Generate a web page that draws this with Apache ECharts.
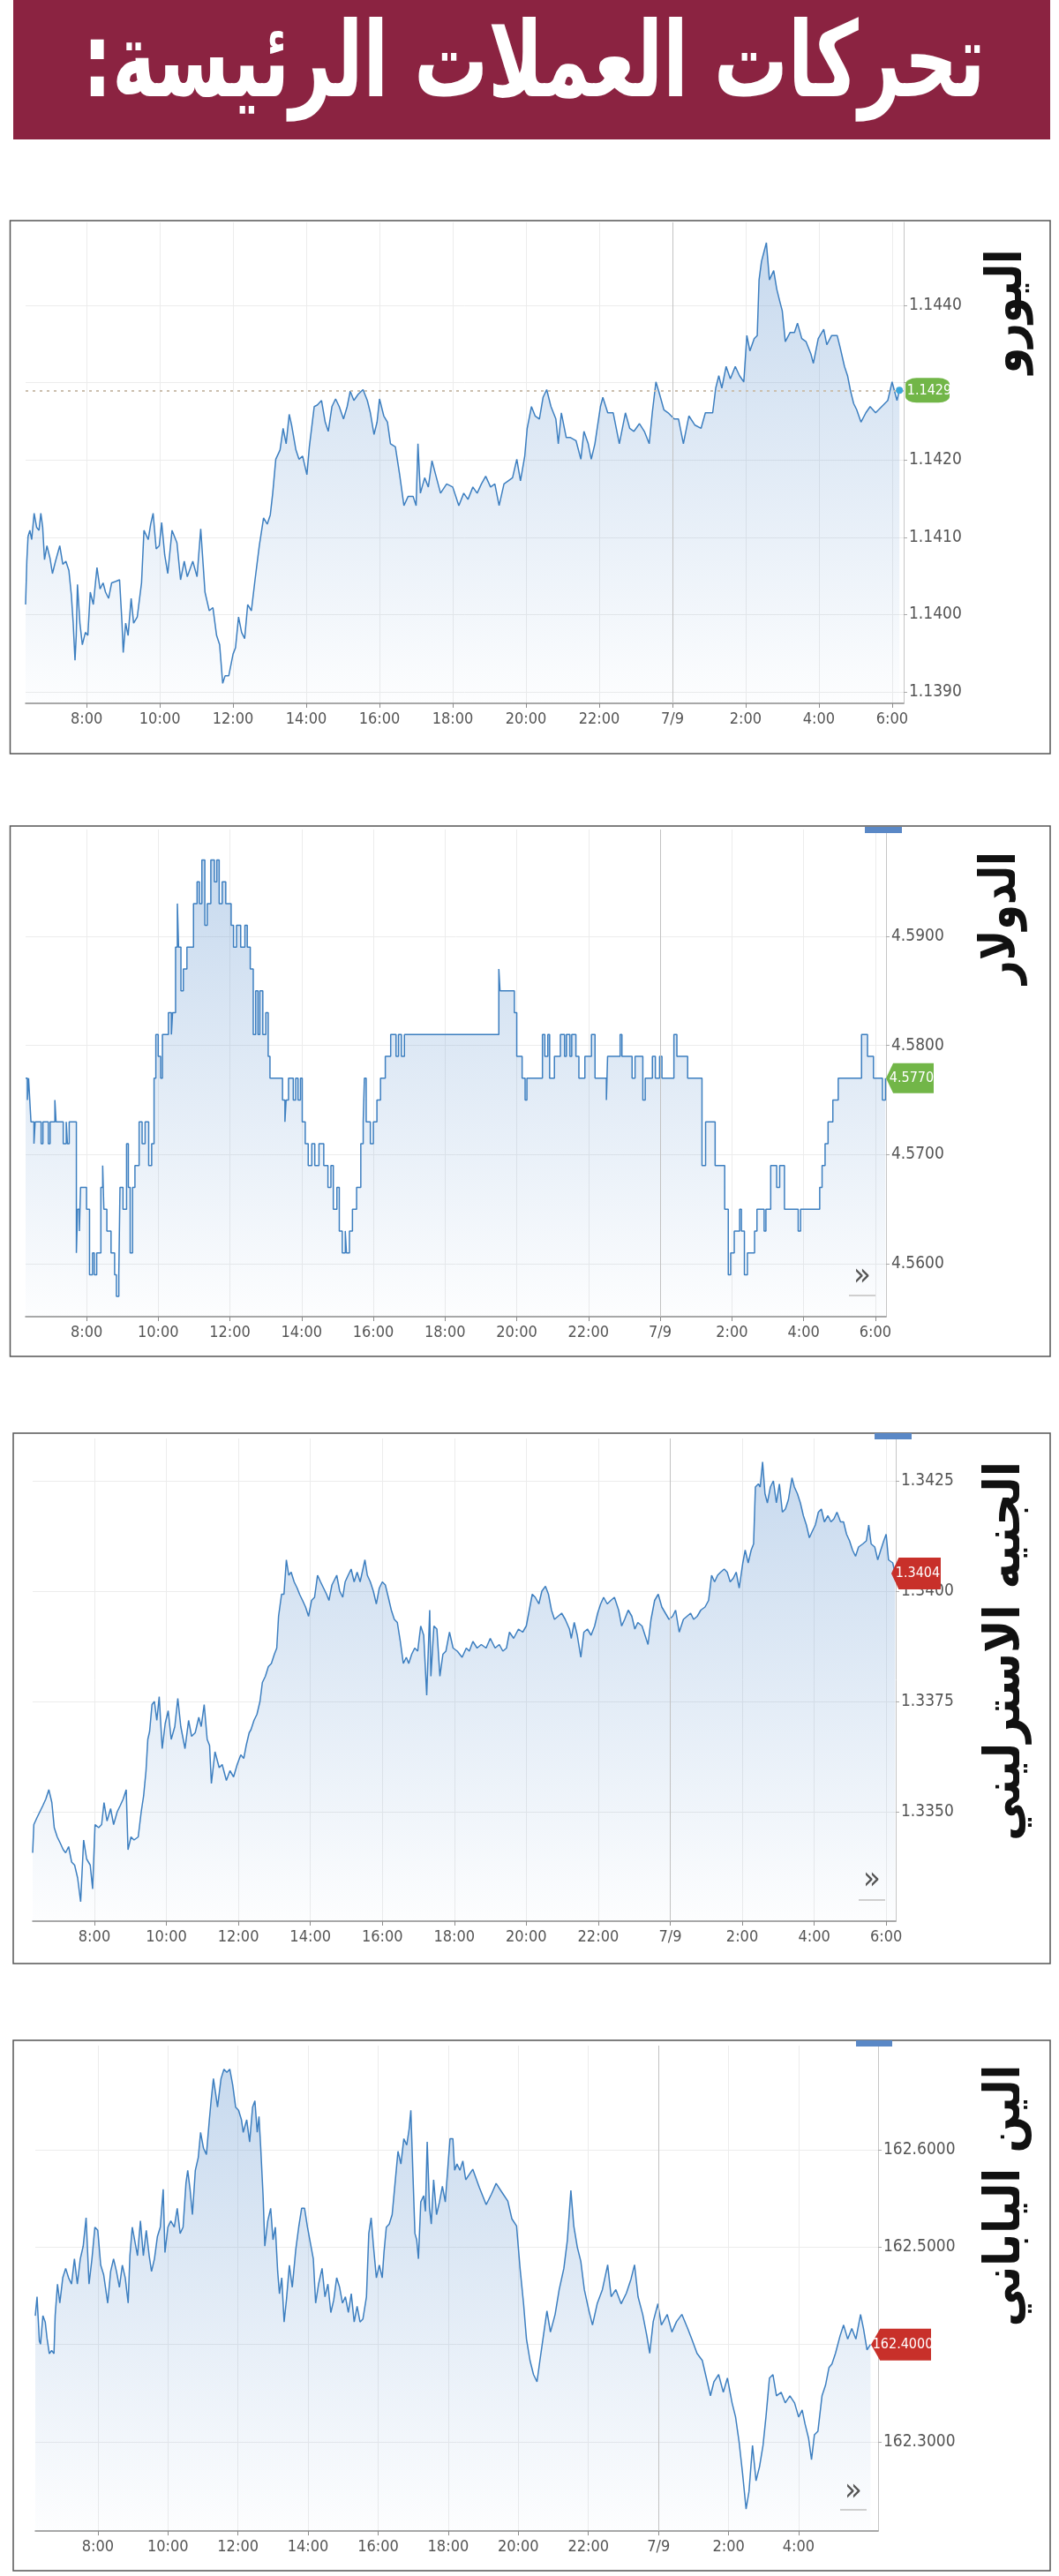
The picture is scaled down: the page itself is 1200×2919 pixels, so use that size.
<!DOCTYPE html>
<html>
<head>
<meta charset="utf-8">
<script src="https://cdn.jsdelivr.net/npm/echarts@6.0.0/dist/echarts.min.js"></script>
<style>
  html, body { margin: 0; padding: 0; background: #fff; }
  #main { width: 1200px; height: 2919px; }
</style>
</head>
<body>
<div id="main"></div>
<script>
// عناوين
var pageTitle = 'تحركات العملات الرئيسة:\u200F';
var chartNames = ['اليورو', 'الدولار', 'الجنيه الاسترليني', 'الين الياباني'];

// محور الوقت: دقائق منذ منتصف ليل اليوم الأول
var timeTicks = [480, 600, 720, 840, 960, 1080, 1200, 1320, 1440, 1560, 1680, 1800];
var timeTicksJpy = [480, 600, 720, 840, 960, 1080, 1200, 1320, 1440, 1560, 1680];

var eurTicks = [1.139, 1.140, 1.141, 1.142, 1.143, 1.144];
var eurLabels = [1.139, 1.140, 1.141, 1.142, 1.144];
var ilsTicks = [4.56, 4.57, 4.58, 4.59];
var gbpTicks = [1.335, 1.3375, 1.34, 1.3425];
var jpyTicks = [162.3, 162.4, 162.5, 162.6];
var jpyLabels = [162.3, 162.5, 162.6];

var lastPrices = [1.1429, 4.5770, 1.3404, 162.4000];

var eurData = [
[380,1.14013],[382,1.14069],[384,1.14101],[387,1.14109],[390,1.14097],[394,1.14131],[398,1.14113],[402,1.14109],[405,1.14131],[408,1.14113],[411,1.14071],[415,1.14089],[420,1.14073],[424,1.14053],[429,1.14069],[436,1.14089],[441,1.14065],[446,1.14069],[451,1.14057],[455,1.14025],[458,1.13989],[461,1.13941],[463,1.13973],[465,1.14039],[469,1.13989],[473,1.13961],[478,1.13977],[482,1.13973],[486,1.14029],[491,1.14013],[497,1.14061],[502,1.14033],[507,1.14041],[511,1.14029],[516,1.14021],[521,1.14041],[528,1.14043],[534,1.14045],[538,1.13989],[540,1.13951],[544,1.13989],[548,1.13973],[553,1.14021],[557,1.13989],[563,1.13997],[570,1.14041],[574,1.14109],[581,1.14097],[585,1.14117],[589,1.14131],[594,1.14085],[599,1.14089],[603,1.14119],[608,1.14077],[613,1.14053],[620,1.14109],[628,1.14093],[634,1.14045],[640,1.14069],[645,1.14049],[654,1.14069],[661,1.14049],[667,1.14111],[674,1.14029],[681,1.14005],[687,1.14009],[693,1.13973],[698,1.13961],[703,1.13911],[707,1.13921],[713,1.13921],[720,1.13949],[724,1.13957],[729,1.13997],[734,1.13977],[739,1.13969],[744,1.14013],[750,1.14005],[756,1.14045],[763,1.14089],[770,1.14125],[776,1.14117],[781,1.14129],[785,1.14157],[790,1.14201],[797,1.14213],[802,1.14241],[807,1.14221],[812,1.14259],[816,1.14245],[823,1.14213],[828,1.14201],[834,1.14205],[841,1.14181],[845,1.14217],[853,1.14269],[858,1.14271],[865,1.14277],[871,1.14249],[876,1.14237],[882,1.14269],[888,1.14279],[894,1.14269],[901,1.14253],[907,1.14269],[912,1.14289],[918,1.14277],[925,1.14285],[933,1.14291],[940,1.14277],[945,1.14261],[951,1.14233],[956,1.14249],[960,1.14279],[967,1.14257],[973,1.14249],[978,1.14221],[986,1.14217],[993,1.14181],[1000,1.14141],[1007,1.14153],[1015,1.14153],[1020,1.14141],[1023,1.14221],[1027,1.14157],[1034,1.14177],[1040,1.14165],[1046,1.14199],[1052,1.14181],[1060,1.14157],[1070,1.14169],[1080,1.14165],[1090,1.14141],
[1098,1.14157],[1105,1.14149],[1113,1.14165],[1120,1.14157],[1127,1.14169],[1134,1.14179],[1142,1.14165],[1149,1.14169],[1156,1.14141],[1164,1.14169],[1171,1.14173],[1178,1.14177],[1185,1.14201],[1191,1.14173],[1198,1.14205],[1202,1.14241],[1209,1.14269],[1215,1.14257],[1222,1.14253],[1228,1.14281],[1234,1.14291],[1241,1.14269],[1249,1.14253],[1253,1.14221],[1258,1.14261],[1266,1.14229],[1273,1.14229],[1282,1.14225],[1290,1.14201],[1295,1.14237],[1302,1.14221],[1307,1.14201],[1313,1.14221],[1322,1.14269],[1326,1.14281],[1334,1.14261],[1343,1.14261],[1353,1.14221],[1363,1.14261],[1370,1.14241],[1377,1.14237],[1386,1.14247],[1394,1.14237],[1402,1.14221],[1407,1.14261],[1413,1.14301],[1419,1.14285],[1426,1.14265],[1433,1.14261],[1443,1.14253],[1450,1.14253],[1458,1.14221],[1467,1.14257],[1477,1.14245],[1487,1.14241],[1494,1.14261],[1506,1.14261],[1511,1.14293],[1516,1.14309],[1521,1.14293],[1528,1.14321],[1535,1.14305],[1543,1.14321],[1550,1.14309],[1557,1.14301],[1562,1.14361],[1567,1.14341],[1574,1.14357],[1579,1.14361],[1582,1.14433],[1586,1.14457],[1590,1.14469],[1594,1.14481],[1599,1.14433],[1606,1.14445],[1611,1.14421],[1616,1.14405],[1620,1.14393],[1625,1.14353],[1633,1.14365],[1640,1.14365],[1645,1.14377],[1652,1.14357],[1659,1.14353],[1667,1.14337],[1671,1.14325],[1679,1.14357],[1688,1.14369],[1693,1.14349],[1701,1.14361],[1710,1.14361],[1715,1.14345],[1722,1.14321],[1727,1.14309],[1732,1.14289],[1737,1.14273],[1742,1.14265],[1749,1.14249],[1757,1.14261],[1764,1.14269],[1773,1.14261],[1783,1.14269],[1793,1.14277],[1800,1.14301],[1808,1.14277],[1812,1.14290]
];

var ilsData = [
[378,4.577],[381,4.575],[383,4.577],[385,4.575],[387,4.573],[392,4.571],[394,4.573],[404,4.571],[407,4.573],[416,4.571],[419,4.573],[427,4.575],[429,4.573],[441,4.571],[446,4.573],[448,4.571],[451,4.573],[463,4.561],[465,4.565],[468,4.563],[470,4.567],[480,4.565],[485,4.559],[490,4.561],[493,4.559],[497,4.561],[504,4.567],[507,4.569],[509,4.565],[514,4.563],[521,4.561],[527,4.559],[530,4.557],[534,4.559],[536,4.567],[541,4.565],[547,4.571],[550,4.567],[553,4.561],[557,4.567],[561,4.569],[568,4.573],[573,4.571],[578,4.573],[584,4.569],[589,4.571],[593,4.577],[596,4.581],[600,4.579],[604,4.577],[607,4.581],[617,4.583],[622,4.581],[624,4.583],[629,4.589],[632,4.593],[634,4.589],[638,4.585],[642,4.587],[648,4.589],[659,4.593],[665,4.595],[669,4.593],[673,4.597],[678,4.591],[682,4.593],[688,4.597],[694,4.595],[698,4.597],[702,4.593],[707,4.595],[713,4.593],[722,4.591],[726,4.589],[731,4.591],[738,4.589],[745,4.591],[749,4.589],[754,4.587],[759,4.581],[763,4.585],[767,4.581],[770,4.585],[775,4.581],[780,4.583],[784,4.579],[787,4.577],[808,4.575],[812,4.573],[814,4.575],[818,4.577],[826,4.575],[830,4.577],[834,4.575],[838,4.577],[841,4.573],[846,4.571],[851,4.569],[857,4.571],[862,4.569],[869,4.571],[877,4.569],[884,4.567],[889,4.569],[893,4.565],[899,4.567],[903,4.563],[908,4.561],[913,4.563],[915,4.561],[920,4.563],[925,4.565],[932,4.567],[939,4.571],[943,4.573],[945,4.577],[948,4.573],[955,4.571],[960,4.573],[966,4.575],[972,4.577],[980,4.579],[989,4.581],[998,4.579],[1002,4.581],[1007,4.579],[1012,4.581],
[1170,4.587],[1172,4.585],[1196,4.583],[1200,4.579],[1209,4.577],[1214,4.575],[1217,4.577],[1243,4.581],[1247,4.579],[1252,4.581],[1255,4.577],[1263,4.579],[1273,4.581],[1280,4.579],[1283,4.581],[1289,4.579],[1292,4.581],[1299,4.579],[1304,4.577],[1314,4.579],[1325,4.581],[1331,4.577],[1350,4.575],[1352,4.579],[1373,4.581],[1376,4.579],[1393,4.577],[1398,4.579],[1411,4.575],[1415,4.577],[1427,4.579],[1432,4.577],[1439,4.579],[1443,4.577],[1463,4.581],[1468,4.579],[1486,4.577],[1510,4.569],[1516,4.573],[1532,4.569],[1548,4.565],[1554,4.559],[1558,4.561],[1564,4.563],[1573,4.565],[1576,4.563],[1581,4.559],[1586,4.561],[1598,4.563],[1602,4.565],[1614,4.563],[1617,4.565],[1625,4.569],[1635,4.567],[1640,4.569],[1648,4.565],[1671,4.563],[1675,4.565],[1707,4.567],[1711,4.569],[1716,4.571],[1721,4.573],[1729,4.575],[1738,4.577],[1777,4.581],[1787,4.579],[1797,4.577],[1812,4.575],[1817,4.577]
];

var gbpData = [
[377,1.33407],[379,1.33471],[384,1.33486],[389,1.33500],[394,1.33514],[399,1.33529],[404,1.33550],[409,1.33521],[413,1.33464],[418,1.33443],[423,1.33429],[428,1.33414],[432,1.33407],[437,1.33421],[442,1.33386],[447,1.33379],[452,1.33350],[457,1.33296],[462,1.33436],[467,1.33393],[473,1.33379],[477,1.33325],[481,1.33471],[487,1.33464],[492,1.33471],[496,1.33521],[501,1.33479],[507,1.33507],[512,1.33471],[518,1.33500],[523,1.33514],[528,1.33529],[533,1.33550],[536,1.33414],[541,1.33443],[546,1.33436],[553,1.33443],[558,1.33500],[562,1.33536],[566,1.33593],[569,1.33664],[572,1.33682],[576,1.33743],[580,1.33750],[584,1.33707],[588,1.33761],[593,1.33643],[598,1.33700],[603,1.33729],[608,1.33664],[614,1.33693],[619,1.33757],[624,1.33693],[631,1.33643],[637,1.33707],[642,1.33671],[648,1.33679],[654,1.33714],[658,1.33693],[663,1.33743],[668,1.33664],[672,1.33650],[675,1.33564],[681,1.33636],[688,1.33600],[693,1.33607],[700,1.33571],[706,1.33593],[712,1.33579],[718,1.33607],[724,1.33629],[729,1.33621],[733,1.33650],[738,1.33679],[741,1.33686],[746,1.33707],[751,1.33721],[756,1.33750],[760,1.33793],[765,1.33807],[770,1.33829],[775,1.33836],[780,1.33857],[784,1.33871],[787,1.33943],[792,1.33993],[796,1.33993],[800,1.34071],[804,1.34036],[808,1.34043],[813,1.34021],[818,1.34007],[822,1.33993],[827,1.33979],[832,1.33964],[837,1.33943],[842,1.33979],[847,1.33986],[852,1.34036],[857,1.34021],[862,1.34007],[867,1.33993],[871,1.33979],[876,1.34014],[884,1.34036],[889,1.34000],[894,1.33986],[898,1.34021],[903,1.34036],[908,1.34050],[913,1.34021],[918,1.34043],[923,1.34021],[931,1.34071],[935,1.34036],[940,1.34021],[945,1.34000],[950,1.33971],[955,1.34007],[960,1.34021],[965,1.34014],[970,1.33986],[975,1.33957],[980,1.33936],[985,1.33929],[990,1.33886],[995,1.33836],[1000,1.33850],[1004,1.33836],[1009,1.33857],[1014,1.33871],[1019,1.33864],[1024,1.33921],[1029,1.33900],[1034,1.33764],[1039,1.33957],[1041,1.33807],[1046,1.33921],[1051,1.33914],[1056,1.33807],[1061,1.33857],[1066,1.33864],[1072,1.33907],[1078,1.33871],[1085,1.33864],[1093,1.33850],[1100,1.33871],
[1105,1.33864],[1111,1.33886],[1118,1.33871],[1125,1.33879],[1133,1.33871],[1140,1.33893],[1148,1.33871],[1155,1.33879],[1161,1.33864],[1167,1.33871],[1172,1.33907],[1179,1.33893],[1187,1.33914],[1194,1.33907],[1200,1.33921],[1205,1.33957],[1210,1.33993],[1215,1.33986],[1221,1.33971],[1226,1.34000],[1232,1.34011],[1237,1.33993],[1242,1.33957],[1247,1.33936],[1253,1.33943],[1259,1.33950],[1265,1.33936],[1272,1.33914],[1275,1.33893],[1280,1.33929],[1285,1.33900],[1291,1.33850],[1296,1.33907],[1302,1.33914],[1308,1.33900],[1314,1.33921],[1319,1.33950],[1324,1.33971],[1329,1.33986],[1335,1.33971],[1341,1.33979],[1347,1.33986],[1354,1.33957],[1359,1.33921],[1364,1.33936],[1370,1.33957],[1376,1.33943],[1381,1.33914],[1386,1.33929],[1393,1.33921],[1398,1.33900],[1403,1.33879],[1408,1.33936],[1414,1.33979],[1420,1.33993],[1426,1.33964],[1432,1.33950],[1438,1.33936],[1444,1.33943],[1449,1.33957],[1455,1.33907],[1462,1.33936],[1468,1.33943],[1474,1.33950],[1479,1.33936],[1485,1.33943],[1491,1.33957],[1498,1.33964],[1504,1.33979],[1509,1.34036],[1514,1.34021],[1519,1.34036],[1524,1.34043],[1530,1.34050],[1535,1.34043],[1540,1.34021],[1545,1.34029],[1550,1.34043],[1555,1.34007],[1561,1.34064],[1565,1.34093],[1570,1.34064],[1575,1.34093],[1579,1.34107],[1582,1.34236],[1587,1.34243],[1590,1.34236],[1594,1.34293],[1598,1.34221],[1602,1.34200],[1607,1.34236],[1612,1.34250],[1617,1.34200],[1622,1.34243],[1627,1.34179],[1632,1.34186],[1637,1.34207],[1643,1.34257],[1647,1.34236],[1652,1.34221],[1657,1.34200],[1662,1.34171],[1667,1.34150],[1672,1.34121],[1677,1.34136],[1682,1.34150],[1687,1.34179],[1692,1.34186],[1697,1.34157],[1703,1.34171],[1708,1.34157],[1713,1.34164],[1718,1.34179],[1724,1.34157],[1729,1.34157],[1734,1.34129],[1739,1.34114],[1744,1.34093],[1749,1.34079],[1754,1.34100],[1761,1.34107],[1767,1.34114],[1771,1.34150],[1775,1.34107],[1781,1.34100],[1786,1.34071],[1791,1.34093],[1796,1.34114],[1800,1.34129],[1804,1.34071],[1811,1.34064],[1815,1.34040]
];

var jpyData = [
[373,162.4295],[376,162.4490],[380,162.4036],[382,162.4003],[386,162.4295],[390,162.4231],[393,162.4068],[397,162.3906],[401,162.3938],[405,162.3906],[407,162.4295],[411,162.4620],[415,162.4425],[420,162.4685],[425,162.4782],[430,162.4685],[435,162.4620],[440,162.4880],[445,162.4620],[450,162.4880],[455,162.5010],[460,162.5302],[465,162.4620],[470,162.4880],[475,162.5205],[480,162.5172],[485,162.4815],[490,162.4718],[497,162.4425],[502,162.4750],[507,162.4880],[512,162.4750],[517,162.4588],[522,162.4815],[527,162.4685],[532,162.4425],[535,162.4912],[539,162.5205],[544,162.5042],[548,162.4912],[553,162.5269],[558,162.4912],[563,162.5172],[568,162.4912],[572,162.4750],[577,162.4880],[582,162.5107],[587,162.5205],[592,162.5594],[595,162.4945],[600,162.5205],[605,162.5269],[611,162.5205],[616,162.5399],[621,162.5140],[626,162.5205],[631,162.5659],[634,162.5789],[638,162.5594],[642,162.5334],[647,162.5789],[652,162.5919],[656,162.6179],[661,162.6016],[666,162.5951],[671,162.6308],[674,162.6503],[678,162.6731],[682,162.6568],[685,162.6438],[691,162.6731],[696,162.6828],[701,162.6795],[706,162.6828],[711,162.6666],[716,162.6438],[721,162.6406],[726,162.6308],[729,162.6179],[735,162.6308],[740,162.6081],[745,162.6438],[749,162.6503],[753,162.6179],[756,162.6341],[759,162.6016],[763,162.5529],[766,162.5010],[771,162.5269],[776,162.5399],[780,162.5075],[784,162.5205],[788,162.4750],[791,162.4522],[795,162.4685],[799,162.4231],[803,162.4458],[808,162.4815],[813,162.4588],[819,162.4977],[824,162.5205],[829,162.5399],[834,162.5399],[839,162.5205],[844,162.5042],[849,162.4880],[853,162.4425],[858,162.4620],[864,162.4782],[869,162.4490],[874,162.4620],[879,162.4328],[884,162.4458],[889,162.4685],[894,162.4588],[899,162.4425],[904,162.4490],[909,162.4328],[914,162.4522],[919,162.4231],[924,162.4393],[929,162.4231],[934,162.4263],[940,162.4490],[944,162.5140],[948,162.5302],[952,162.5010],[957,162.4685],[962,162.4815],[967,162.4685],[970,162.4945],[974,162.5205],[979,162.5237],[984,162.5334],[989,162.5659],[994,162.5984],[999,162.5854],[1004,162.6114],[1009,162.6049],[1013,162.6211],[1016,162.6406],[1019,162.5854],[1023,162.5140],[1026,162.5075],[1029,162.4880],[1033,162.5464],[1038,162.5529],[1041,162.5367],[1044,162.6081],[1048,162.5399],[1051,162.5237],[1055,162.5692],[1060,162.5334],[1065,162.5464],[1070,162.5626],[1075,162.5464],[1079,162.5789],[1083,162.6114],[1088,162.6114],[1091,162.5789],[1095,162.5854],[1100,162.5789],[1105,162.5886],[1110,162.5692],
[1122,162.5800],[1133,162.5618],[1145,162.5436],[1154,162.5545],[1162,162.5655],[1174,162.5545],[1182,162.5473],[1189,162.5291],[1197,162.5218],[1203,162.4782],[1209,162.4418],[1214,162.4055],[1220,162.3836],[1226,162.3691],[1232,162.3618],[1237,162.3836],[1243,162.4091],[1249,162.4345],[1255,162.4127],[1263,162.4309],[1270,162.4564],[1278,162.4782],[1284,162.5073],[1290,162.5582],[1295,162.5218],[1301,162.5000],[1307,162.4855],[1313,162.4564],[1321,162.4345],[1327,162.4200],[1335,162.4418],[1344,162.4564],[1353,162.4818],[1359,162.4491],[1367,162.4564],[1376,162.4418],[1385,162.4527],[1393,162.4673],[1399,162.4818],[1405,162.4491],[1413,162.4309],[1420,162.4091],[1425,162.3909],[1431,162.4236],[1439,162.4418],[1445,162.4200],[1455,162.4309],[1463,162.4127],[1471,162.4236],[1480,162.4309],[1490,162.4164],[1497,162.4055],[1506,162.3909],[1515,162.3836],[1522,162.3655],[1529,162.3473],[1535,162.3618],[1543,162.3691],[1551,162.3509],[1558,162.3655],[1566,162.3400],[1572,162.3255],[1578,162.3000],[1584,162.2673],[1590,162.2309],[1595,162.2491],[1601,162.2964],[1607,162.2600],[1613,162.2745],[1619,162.2964],[1624,162.3255],[1630,162.3655],[1636,162.3691],[1642,162.3473],[1650,162.3509],[1657,162.3400],[1665,162.3473],[1673,162.3400],[1680,162.3255],[1686,162.3327],[1691,162.3182],[1697,162.3036],[1702,162.2818],[1707,162.3073],[1713,162.3109],[1720,162.3473],[1726,162.3582],[1732,162.3764],[1737,162.3800],[1743,162.3909],[1751,162.4091],[1757,162.4200],[1764,162.4055],[1771,162.4164],[1778,162.4055],[1786,162.4309],[1791,162.4164],[1797,162.3945],[1803,162.4000]
];

var NUM_FONT = '"Liberation Sans Narrow", "DejaVu Sans Condensed", sans-serif';
var AR_FONT = '"DejaVu Sans", sans-serif';
var ARROW = 'path://M0,15 L9,0 L60,0 L60,30 L9,30 Z';

var panels = [
  { data: eurData, step: false, grid: { left: 29, top: 252, width: 995, height: 545 },
    xMin: 380, xMax: 1819, yMin: 1.138852, yMax: 1.145073,
    xTicks: timeTicks, xLabels: timeTicks, yTicks: eurTicks, yLabels: eurLabels,
    badge: { color: '#72b648', symbol: 'roundRect', size: [50, 28], offset: [27, 0] },
    dotted: true, dot: true },
  { data: ilsData, step: 'end', grid: { left: 29, top: 940, width: 975, height: 552 },
    xMin: 378, xMax: 1818, yMin: 4.555150, yMax: 4.599782,
    xTicks: timeTicks, xLabels: timeTicks, yTicks: ilsTicks, yLabels: ilsTicks,
    badge: { color: '#72b648', symbol: ARROW, size: [54, 34], offset: [27, 0] } },
  { data: gbpData, step: false, grid: { left: 37, top: 1630, width: 978, height: 547 },
    xMin: 377, xMax: 1816, yMin: 1.33252, yMax: 1.34346,
    xTicks: timeTicks, xLabels: timeTicks, yTicks: gbpTicks, yLabels: gbpTicks,
    badge: { color: '#c8302a', symbol: ARROW, size: [56, 36], offset: [23, 0] } },
  { data: jpyData, step: false, grid: { left: 40, top: 2318, width: 955, height: 550 },
    xMin: 373, xMax: 1816, yMin: 162.20843, yMax: 162.70698,
    xTicks: timeTicksJpy, xLabels: timeTicksJpy, yTicks: jpyTicks, yLabels: jpyLabels,
    badge: { color: '#c8302a', symbol: ARROW, size: [68, 36], offset: [26, 0] } }
];

function timeLabel(v) {
  if (v === 1440) return '7/9';
  return ((v / 60) % 24) + ':00';
}

var grids = [], xAxes = [], yAxes = [], series = [];
panels.forEach(function (p, i) {
  grids.push(p.grid);
  xAxes.push({
    type: 'value', gridIndex: i, min: p.xMin, max: p.xMax,
    axisLine: { show: true, onZero: false, lineStyle: { color: '#8c8c8c', width: 1.5 } },
    axisTick: { show: true, customValues: p.xTicks, length: 5, lineStyle: { color: '#8c8c8c' } },
    axisLabel: { customValues: p.xLabels, formatter: timeLabel, color: '#555',
      fontSize: 18, fontFamily: NUM_FONT, margin: 9 },
    splitLine: { show: true, lineStyle: { color: '#ececec', width: 1 } }
  });
  yAxes.push({
    type: 'value', gridIndex: i, position: 'right', min: p.yMin, max: p.yMax,
    axisLine: { show: true, onZero: false, lineStyle: { color: '#c6c6c6', width: 1 } },
    axisTick: { show: true, customValues: p.yTicks, length: 4, lineStyle: { color: '#aaa' } },
    axisLabel: { customValues: p.yLabels, formatter: function (v) { return v.toFixed(4); },
      color: '#555', fontSize: 19, fontFamily: NUM_FONT, margin: 6 },
    splitLine: { show: true, lineStyle: { color: '#ececec', width: 1 } }
  });

  var lastPt = p.data[p.data.length - 1];
  var marks = [];
  if (p.dot) {
    marks.push({ coord: lastPt, symbol: 'circle', symbolSize: 8,
      itemStyle: { color: '#3aa6dc' }, label: { show: false } });
  }
  marks.push({
    coord: [p.xMax, lastPrices[i]], symbol: p.badge.symbol, symbolSize: p.badge.size,
    symbolKeepAspect: false, symbolOffset: p.badge.offset,
    itemStyle: { color: p.badge.color },
    label: { show: true, formatter: lastPrices[i].toFixed(4), color: '#fff',
      fontSize: 16, fontFamily: NUM_FONT, position: 'inside', offset: [2, 0] }
  });

  var lines = [{ xAxis: 1440, lineStyle: { color: '#c2c2c2', width: 1, type: 'solid' } }];
  if (p.dotted) {
    lines.push({ yAxis: lastPrices[i], lineStyle: { color: '#cbbfae', width: 2, type: [3, 5] } });
  }

  series.push({
    type: 'line', xAxisIndex: i, yAxisIndex: i, data: p.data, step: p.step,
    showSymbol: false, symbol: 'none', animation: false, clip: true,
    lineStyle: { color: '#3d7fc0', width: 1.5 },
    areaStyle: {
      origin: 'start',
      color: new echarts.graphic.LinearGradient(0, 0, 0, 1, [
        { offset: 0, color: 'rgba(96,148,207,0.50)' },
        { offset: 1, color: 'rgba(96,148,207,0.02)' }
      ])
    },
    markLine: { silent: true, symbol: 'none', precision: 6, label: { show: false }, animation: false, data: lines },
    markPoint: { silent: true, animation: false, data: marks }
  });
});

// قياس عرض النص لضبط المقياس الأفقي
function fitScale(text, size, family, target) {
  var ctx = document.createElement('canvas').getContext('2d');
  ctx.font = 'bold ' + size + 'px ' + family;
  return target / ctx.measureText(text).width;
}

var frames = [
  { x: 11.5, y: 250, w: 1178.5, h: 604 },
  { x: 11.5, y: 936, w: 1178.5, h: 601 },
  { x: 15, y: 1624, w: 1175, h: 601 },
  { x: 15, y: 2312, w: 1175, h: 601 }
];
var titlePos = [
  { x: 1142, y: 353, len: 141 },
  { x: 1135, y: 1040, len: 150 },
  { x: 1140, y: 1871, len: 430 },
  { x: 1140, y: 2488, len: 297 }
];
var tabs = [null, { x: 980, y: 937, w: 42 }, { x: 991, y: 1624, w: 42 }, { x: 970, y: 2312, w: 41 }];
var moreBtns = [null, { x: 977, y: 1447, lineY: 1467 }, { x: 988, y: 2131, lineY: 2152 }, { x: 967, y: 2824, lineY: 2843 }];

var graphics = [];
graphics.push({ type: 'rect', shape: { x: 15, y: 0, width: 1175, height: 158 }, style: { fill: '#8b2341' }, z: 1 });
graphics.push({
  type: 'text', x: 605, y: 78, scaleX: fitScale(pageTitle, 118, AR_FONT, 1023),
  style: { text: pageTitle, fill: '#fff', fontSize: 118, fontWeight: 'bold', fontFamily: AR_FONT,
    align: 'center', verticalAlign: 'middle' }, z: 2
});
frames.forEach(function (f, i) {
  graphics.push({ type: 'rect', shape: { x: f.x, y: f.y, width: f.w, height: f.h },
    style: { fill: null, stroke: '#555', lineWidth: 1.5 }, z: 5 });
  var t = titlePos[i];
  graphics.push({
    type: 'text', x: t.x, y: t.y, rotation: Math.PI / 2,
    scaleX: fitScale(chartNames[i], 56, AR_FONT, t.len),
    style: { text: chartNames[i], fill: '#111', fontSize: 56, fontWeight: 'bold', fontFamily: AR_FONT,
      align: 'center', verticalAlign: 'middle' }, z: 5
  });
  if (tabs[i]) {
    graphics.push({ type: 'rect', shape: { x: tabs[i].x, y: tabs[i].y, width: tabs[i].w, height: 7 },
      style: { fill: '#5a88c6' }, z: 6 });
  }
  if (moreBtns[i]) {
    var b = moreBtns[i];
    graphics.push({ type: 'text', x: b.x, y: b.y,
      style: { text: '»', fill: '#555', fontSize: 36, fontFamily: NUM_FONT, align: 'center', verticalAlign: 'middle' }, z: 6 });
    graphics.push({ type: 'rect', shape: { x: b.x - 15, y: b.lineY, width: 30, height: 2 },
      style: { fill: '#cfcfcf' }, z: 6 });
  }
});

var chart = echarts.init(document.getElementById('main'));
chart.setOption({
  animation: false,
  backgroundColor: '#fff',
  grid: grids,
  xAxis: xAxes,
  yAxis: yAxes,
  series: series,
  graphic: graphics
});
</script>
</body>
</html>
